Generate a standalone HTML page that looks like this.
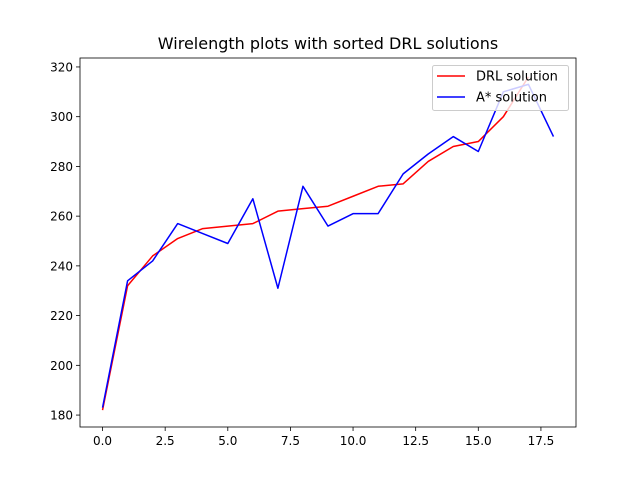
<!DOCTYPE html>
<html><head><meta charset="utf-8"><style>body{margin:0;background:#fff}svg{display:block;font-family:"DejaVu Sans","Liberation Sans",sans-serif}</style></head>
<body>
<svg id="c" width="640" height="480"></svg>
<script>
const xs=[0,1,2,3,4,5,6,7,8,9,10,11,12,13,14,15,16,17,18];
const drl=[182,232,244,251,255,256,257,262,263,264,268,272,273,282,288,290,300,316];
const astar=[183,234,242,257,253,249,267,231,272,256,261,261,277,285,292,286,310,313,292];
const xTicks=[0,2.5,5,7.5,10,12.5,15,17.5];
const xTickLabels=["0.0","2.5","5.0","7.5","10.0","12.5","15.0","17.5"];
const yTicks=[180,200,220,240,260,280,300,320];
const L=80,R=576,T=58,B=427;
const x0=-0.9,x1=18.9,y0=175.2,y1=323.6;
const sx=v=>L+(v-x0)/(x1-x0)*(R-L);
const sy=v=>B-(v-y0)/(y1-y0)*(B-T);
const svg=document.getElementById('c');
const NS='http://www.w3.org/2000/svg';
function mk(t,a,p){const e=document.createElementNS(NS,t);for(const k in a)e.setAttribute(k,a[k]);(p||svg).appendChild(e);return e;}
let e;
e=mk('text',{x:328,y:49,'text-anchor':'middle','font-size':16,fill:'#000'});e.textContent='Wirelength plots with sorted DRL solutions';


xTicks.forEach((v,i)=>{
 e=mk('line',{x1:sx(v),x2:sx(v),y1:B,y2:B+4,stroke:'#000','stroke-width':0.8});
 
 
 e=mk('text',{x:sx(v),y:B+18,'text-anchor':'middle','font-size':12});e.textContent=xTickLabels[i];
 
 
});
yTicks.forEach(v=>{
 e=mk('line',{x1:L-4,x2:L,y1:sy(v),y2:sy(v),stroke:'#000','stroke-width':0.8});
 
 
 e=mk('text',{x:L-7,y:sy(v)+4.5,'text-anchor':'end','font-size':12});e.textContent=String(v);
 
 
});
function line(arr,col,name){
 const p=arr.map((v,i)=>sx(xs[i])+','+sy(v)).join(' ');
 e=mk('polyline',{points:p,fill:'none',stroke:col,'stroke-width':1.5,'stroke-linejoin':'round'});
 
 
}
line(drl,'#ff0000','drl-line');
line(astar,'#0000ff','astar-line');
e=mk('rect',{x:L,y:T,width:R-L,height:B-T,fill:'none',stroke:'#000','stroke-width':0.8});


const g=mk('g',{});


mk('rect',{x:432.5,y:65.5,width:136,height:45,rx:2,fill:'#fff','fill-opacity':0.8,stroke:'#ccc'},g);
[['DRL solution','#ff0000',76],['A* solution','#0000ff',97]].forEach(([t,c,y])=>{
 e=mk('line',{x1:437,x2:465,y1:y,y2:y,stroke:c,'stroke-width':1.5},g);
 
 
 e=mk('text',{x:476,y:y+4.5,'font-size':13},g);e.textContent=t;
 
 
});
</script>
</body></html>
